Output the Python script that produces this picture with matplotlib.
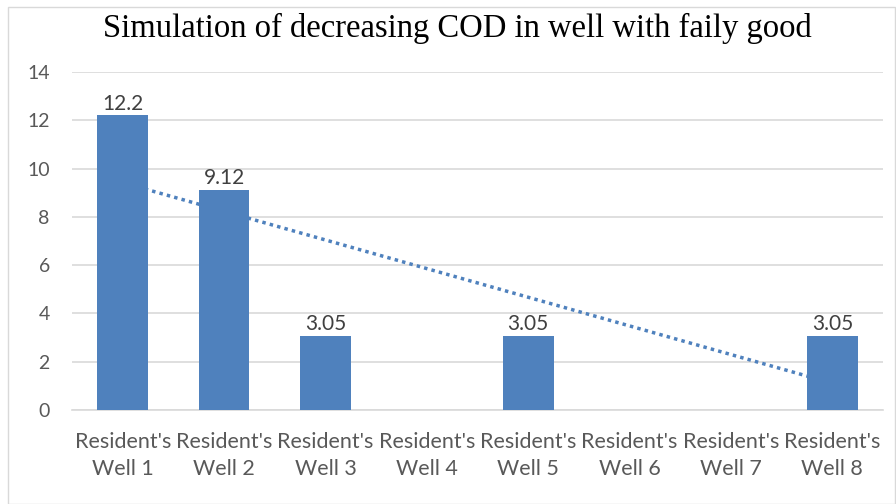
import matplotlib.pyplot as plt
import numpy as np
from matplotlib.patches import Rectangle

wells = ["Resident's\nWell 1", "Resident's\nWell 2", "Resident's\nWell 3", "Resident's\nWell 4",
         "Resident's\nWell 5", "Resident's\nWell 6", "Resident's\nWell 7", "Resident's\nWell 8"]
cod = [12.2, 9.12, 3.05, np.nan, 3.05, np.nan, np.nan, 3.05]
labels = ['12.2', '9.12', '3.05', '', '3.05', '', '', '3.05']

blue = '#4f81bd'
grey = '#595959'

fig = plt.figure(figsize=(8.96, 5.04), dpi=100)
fig.patches.append(Rectangle((8/896, 0.0), 1 - 9/896, 1 - 7/504, transform=fig.transFigure,
                             fill=False, edgecolor='#d9d9d9', linewidth=1))
ax = fig.add_axes([72/896, 1 - 410/504, 811/896, 338/504])

x = np.arange(1, len(wells) + 1)
y = np.array(cod)
ok = ~np.isnan(y)

# linear trendline over the wells that have data
k, b = np.polyfit(x[ok], y[ok], 1)
ax.plot(x, k * x + b, color=blue, linestyle=(0, (1, 1.2)), linewidth=2.5, zorder=2)

bars = ax.bar(x[ok], y[ok], width=0.5, color=blue, zorder=3)
for xi, yi, lab in zip(x, y, labels):
    if lab:
        ax.text(xi, yi + 0.08, lab, ha='center', va='bottom', fontsize=15,
                family='Lato', color='#404040', zorder=4)

ax.set_xlim(0.5, 8.5)
ax.set_ylim(0, 14)
ax.set_yticks(np.arange(0, 15, 2))
ax.set_xticks(x)
ax.set_xticklabels(wells, fontsize=15.5, family='Lato', color=grey, linespacing=1.4)
for t in ax.get_yticklabels():
    t.set_fontsize(14)
    t.set_family('Lato')
    t.set_color(grey)
ax.tick_params(axis='both', length=0)
ax.tick_params(axis='x', pad=16)
ax.tick_params(axis='y', pad=16)
ax.grid(axis='y', color='#d9d9d9', linewidth=1.2, zorder=0)
ax.set_axisbelow(True)
for s in ['top', 'right', 'left']:
    ax.spines[s].set_visible(False)
ax.spines['bottom'].set_color('#d9d9d9')
ax.spines['bottom'].set_linewidth(1.2)

fig.text(0.51, 1 - 28/504, 'Simulation of decreasing COD in well with faily good',
         ha='center', va='center', fontsize=23.5, family='Liberation Serif', color='black')

fig.savefig('out.png', dpi=100)
plt.close('all')
